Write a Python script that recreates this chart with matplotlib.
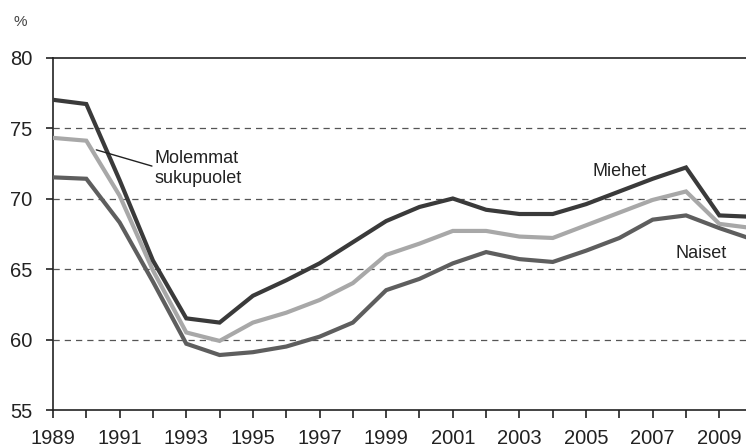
import matplotlib
matplotlib.use("Agg")
import matplotlib.pyplot as plt
from matplotlib.ticker import MultipleLocator

years = list(range(1989, 2011))
miehet = [77.0, 76.7, 71.3, 65.6, 61.5, 61.2, 63.1, 64.2, 65.4, 66.9, 68.4, 69.4, 70.0,
          69.2, 68.9, 68.9, 69.6, 70.5, 71.4, 72.2, 68.8, 68.7]
molemmat = [74.3, 74.1, 70.2, 64.9, 60.5, 59.9, 61.2, 61.9, 62.8, 64.0, 66.0, 66.8, 67.7,
            67.7, 67.3, 67.2, 68.1, 69.0, 69.9, 70.5, 68.2, 67.9]
naiset = [71.5, 71.4, 68.3, 64.1, 59.7, 58.9, 59.1, 59.5, 60.2, 61.2, 63.5, 64.3, 65.4,
          66.2, 65.7, 65.5, 66.3, 67.2, 68.5, 68.8, 67.9, 67.1]
yticks = [55, 60, 65, 70, 75, 80]
xlabels = list(range(1989, 2010, 2))

plt.rcParams['font.family'] = ['Liberation Sans', 'DejaVu Sans']

fig = plt.figure(figsize=(7.46, 4.47), dpi=100)
ax = fig.add_axes([53/746, 1-410/447, 1-53/746, (410-57.5)/447])

ax.plot(years, naiset, color='#5e5e5e', lw=3.0, solid_joinstyle='miter', zorder=3)
ax.plot(years, molemmat, color='#a8a8a8', lw=3.0, solid_joinstyle='miter', zorder=4)
ax.plot(years, miehet, color='#3a3a3a', lw=3.0, solid_joinstyle='miter', zorder=5)

ax.set_xlim(1989, 2009.8)
ax.set_ylim(55, 80)
ax.set_yticks(yticks)
ax.set_xticks(xlabels)
ax.xaxis.set_minor_locator(MultipleLocator(1))
ax.tick_params(axis='both', which='both', direction='out', colors='#222222', labelsize=14.5, width=1.2)
ax.tick_params(axis='x', which='major', length=6, pad=7.5)
ax.tick_params(axis='x', which='minor', length=6)
ax.tick_params(axis='y', length=5, pad=10)
for lab in ax.get_xticklabels() + ax.get_yticklabels():
    lab.set_color('#222222')

for y in [60, 65, 70, 75]:
    ax.axhline(y, color='#555555', lw=0.9, ls=(0, (5, 4)), zorder=1)

for s in ['left', 'bottom', 'top']:
    ax.spines[s].set_color('#222222')
    ax.spines[s].set_linewidth(1.2)
ax.spines['right'].set_visible(False)

fig.text(14/746, 1-22/447, '%', fontsize=11, color='#444444', ha='left', va='center')

ax.annotate('', xy=(1990.3, 73.45), xytext=(1991.97, 72.3),
            arrowprops=dict(arrowstyle='-', color='#222222', lw=1.0, shrinkA=0, shrinkB=0),
            zorder=6)
ax.text(1992.05, 72.13, 'Molemmat\nsukupuolet', fontsize=13, color='#222222',
        ha='left', va='center', linespacing=1.2, zorder=6)
ax.text(2006.0, 71.9, 'Miehet', fontsize=13, color='#222222', ha='center', va='center', zorder=6)
ax.text(2008.45, 66.1, 'Naiset', fontsize=13, color='#222222', ha='center', va='center', zorder=6)

fig.savefig('out.png', dpi=100)
